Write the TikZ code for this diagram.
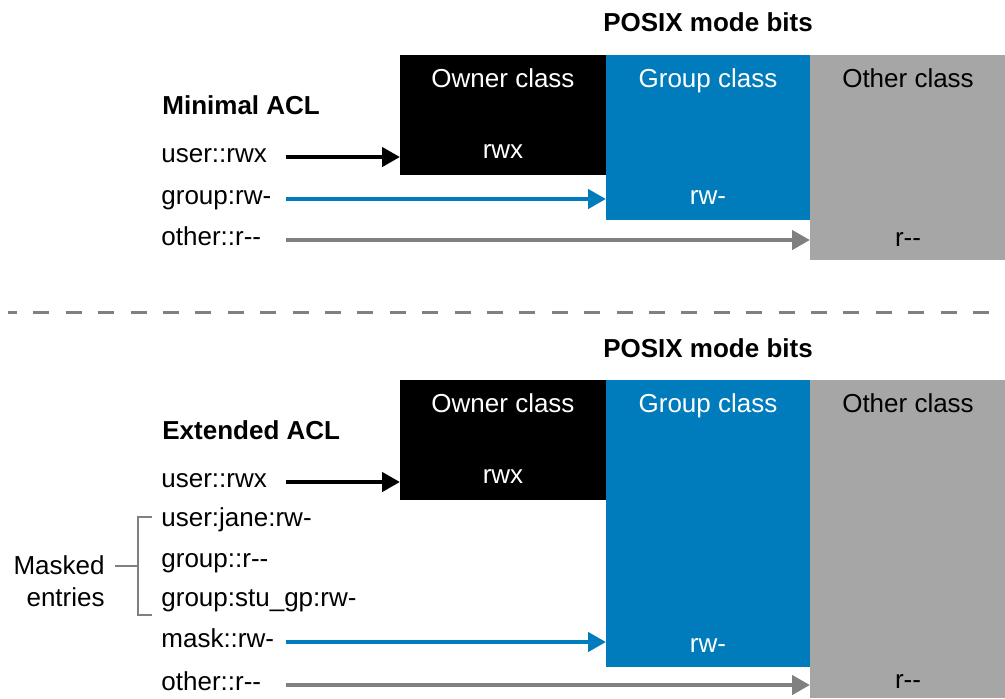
\documentclass[tikz,border=0pt]{standalone}
\usepackage{fontspec}
\setmainfont{Liberation Sans}[Ligatures=TeXOff]
\usepackage{tikz}
\usetikzlibrary{arrows.meta}
\definecolor{aclblue}{RGB}{0,123,187}
\definecolor{boxgrey}{RGB}{166,166,166}
\definecolor{arrgrey}{RGB}{128,128,128}

\newcommand\aclfont{\fontsize{13}{16}\selectfont}

\tikzset{
    cls/.style={anchor=north west, inner sep=0, outer sep=0},
    clstxt/.style={inner sep=0, text height=0.72em, text depth=0pt},
    bits/.style={inner sep=0, text height=0.52em, text depth=0pt},
    ent/.style={anchor=west, inner sep=0, text height=0.72em, text depth=0.2em},
    head/.style={font=\aclfont\bfseries},
    arr/.style={line width=2.2pt, -{Triangle[length=9pt,width=9.5pt]}},
    brk/.style={arrgrey, line width=1.3pt},
}

\begin{document}
\begin{tikzpicture}[x=0.5pt, y=-0.5pt, font=\aclfont]
    \useasboundingbox (0,0) rectangle (1005,698);
    \coordinate (tail) at (286,0);

    % minimal ACL
    \path
        node (posA) at (708,22) [head] { POSIX mode bits }
        node (ownerA) at (400,55) [cls, fill=black, minimum width=103pt, minimum height=60pt] {}
        node (groupA) at (606,55) [cls, fill=aclblue, minimum width=102pt, minimum height=82.5pt] {}
        node (otherA) at (810,55) [cls, fill=boxgrey, minimum width=97.5pt, minimum height=102.5pt] {}
        node at (503,80) [clstxt, white] { Owner class }
        node at (708,80) [clstxt, white] { Group class }
        node at (908,80) [clstxt] { Other class }
        node at (503,153) [bits, white] { rwx }
        node at (708,199) [bits, white] { rw- }
        node at (908,241) [bits] { r-- };
    \path
        node (minA) at (162,105) [head, anchor=west, inner sep=0] { Minimal ACL }
        node (uA) at (161,157) [ent] { user::rwx }
        node (gA) at (161,199) [ent] { group:rw- }
        node (oA) at (161,240) [ent] { other::r-- };
    \draw[arr] (uA.east -| tail) -- (uA.east -| ownerA.west);
    \draw[arr, aclblue] (gA.east -| tail) -- (gA.east -| groupA.west);
    \draw[arr, arrgrey] (oA.east -| tail) -- (oA.east -| otherA.west);

    \draw[arrgrey, line width=1.5pt, dash pattern=on 8pt off 8.2pt, dash phase=3.5pt] (8,312) -- (1005,312);

    % extended ACL
    \path
        node (posB) at (708,348) [head] { POSIX mode bits }
        node (ownerB) at (400,380) [cls, fill=black, minimum width=103pt, minimum height=60pt] {}
        node (groupB) at (606,380) [cls, fill=aclblue, minimum width=102pt, minimum height=143.5pt] {}
        node (otherB) at (810,380) [cls, fill=boxgrey, minimum width=97.5pt, minimum height=159pt] {}
        node at (503,405) [clstxt, white] { Owner class }
        node at (708,405) [clstxt, white] { Group class }
        node at (908,405) [clstxt] { Other class }
        node at (503,478) [bits, white] { rwx }
        node at (708,647) [bits, white] { rw- }
        node at (908,683) [bits] { r-- };
    \path
        node (extB) at (162,430) [head, anchor=west, inner sep=0] { Extended ACL }
        node (uB) at (161,482) [ent] { user::rwx }
        node (janeB) at (161,521) [ent] { user:jane:rw- }
        node (gB) at (161,562) [ent] { group::r-- }
        node (stuB) at (161,601) [ent] { group:stu\_gp:rw- }
        node (maskB) at (161,642) [ent] { mask::rw- }
        node (oB) at (161,685) [ent] { other::r-- }
        node (masked) at (105,581) [anchor=east, align=right, inner sep=0] { Masked\\entries };
    \draw[arr] (uB.east -| tail) -- (uB.east -| ownerB.west);
    \draw[arr, aclblue] (maskB.east -| tail) -- (maskB.east -| groupB.west);
    \draw[arr, arrgrey] (oB.east -| tail) -- (oB.east -| otherB.west);

    % bracket round the masked entries
    \draw[brk] (152,517) -- (138,517) -- (138,615) -- (152,615);
    \draw[brk] (115,566) -- (138,566);
\end{tikzpicture}
\end{document}
